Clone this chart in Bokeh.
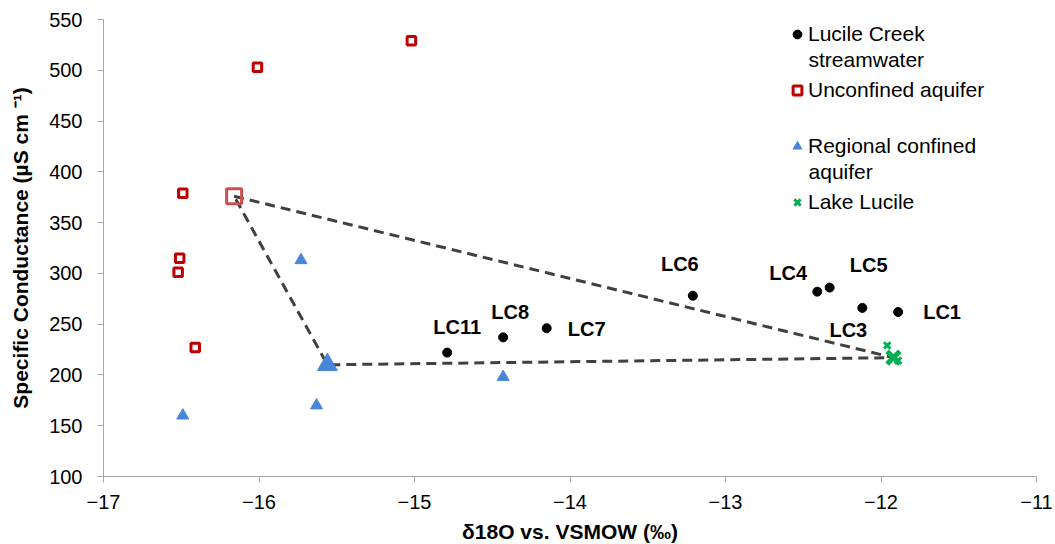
from bokeh.plotting import figure
from bokeh.models import FixedTicker, Legend, LegendItem, ColumnDataSource
from bokeh.core.properties import value
from bokeh.embed import file_html
from bokeh.resources import INLINE

# ---------------- data ----------------
lc_x = [-14.79, -14.43, -14.15, -13.21, -12.41, -12.33, -12.12, -11.89]
lc_y = [222, 237, 246, 278, 282, 286, 266, 262]
lc_labels = ["LC11", "LC8", "LC7", "LC6", "LC4", "LC5", "LC3", "LC1"]

unconf_x = [-15.02, -16.01, -16.49, -16.51, -16.52, -16.41]
unconf_y = [529, 503, 379, 315, 301, 227]

regional_x = [-16.49, -15.63, -15.73, -15.56, -14.43]
regional_y = [160, 170, 313, 213, 198]

lake_x = [-11.96, -11.89]
lake_y = [229, 214]

# end members: unconfined, regional confined, lake
em_unconf = (-16.16, 376)
em_regional = (-15.56, 210)
em_lake = (-11.92, 217)

x_ticks = [-17, -16, -15, -14, -13, -12, -11]
y_ticks = [100, 150, 200, 250, 300, 350, 400, 450, 500, 550]

# label offsets (screen px, y down) for LC labels
lab_dx = [10, 7, 40, -13, -29, 39, -14, 44]
lab_dy = [-26, -25, 1, -32, -19, -23, 22, 0]

FONT = "Liberation Sans"
RED = "#c00000"
RED_EM = "#c9504f"
BLUE = "#4a86d6"
GREEN = "#00b050"
DASH = "#404040"
AXIS = "#a6a6a6"

p = figure(frame_width=933, frame_height=457, output_backend="svg", toolbar_location=None,
           x_range=(-17, -11), y_range=(100, 550),
           min_border_left=103, min_border_right=19, min_border_top=19, min_border_bottom=68)
p.outline_line_color = None
p.xgrid.grid_line_color = None
p.ygrid.grid_line_color = None
p.background_fill_color = "white"
p.border_fill_color = "white"

for ax in (p.xaxis[0], p.yaxis[0]):
    ax.axis_line_color = AXIS
    ax.major_tick_line_color = AXIS
    ax.minor_tick_line_color = None
    ax.major_tick_in = 0
    ax.major_tick_out = 6
    ax.major_label_text_font = FONT
    ax.major_label_text_font_size = "20px"
    ax.major_label_text_color = "#000000"
    ax.axis_label_text_font = FONT
    ax.axis_label_text_font_size = "21px"
    ax.axis_label_text_font_style = "bold"
    ax.axis_label_text_color = "#000000"

p.xaxis.ticker = FixedTicker(ticks=x_ticks)
p.yaxis.ticker = FixedTicker(ticks=y_ticks)
p.xaxis.major_label_standoff = 12
p.xaxis.axis_label_standoff = 8
p.yaxis.major_label_standoff = 15
p.yaxis.axis_label_standoff = 14
p.xaxis.axis_label = "δ18O vs. VSMOW (‰)"
p.yaxis.axis_label = "Specific Conductance (µS cm ⁻¹)"

# mixing triangle (dashed)
mx = [em_unconf[0], em_lake[0], em_regional[0], em_unconf[0]]
my = [em_unconf[1], em_lake[1], em_regional[1], em_unconf[1]]
p.line(mx, my, line_color=DASH, line_width=3, line_dash="10 6")

# series
r_lc = p.scatter(lc_x, lc_y, marker="circle", size=9, fill_color="black", line_color="black")
r_un = p.scatter(unconf_x, unconf_y, marker="square", size=8.5, fill_color="white",
                 line_color=RED, line_width=3)
r_rg = p.scatter(regional_x, regional_y, marker="triangle", size=12, fill_color=BLUE,
                 line_color=BLUE, line_width=1)
r_lk = p.scatter(lake_x, lake_y, marker="x", size=9, line_color=GREEN, line_width=3)

# end-member markers
p.scatter([em_unconf[0]], [em_unconf[1]], marker="square", size=15, fill_color="white",
          fill_alpha=0, line_color=RED_EM, line_width=3)
p.scatter([em_regional[0]], [em_regional[1]], marker="triangle", size=20, fill_color=BLUE,
          line_color=BLUE)
p.scatter([em_lake[0]], [em_lake[1]], marker="x", size=18, line_color=GREEN, line_width=5)

# LC labels
src = ColumnDataSource(dict(x=lc_x, y=lc_y, t=lc_labels, dx=lab_dx, dy=lab_dy))
p.text(x="x", y="y", text="t", x_offset="dx", y_offset="dy", source=src,
       text_font=value(FONT), text_font_size="20px", text_font_style="bold",
       text_align="center", text_baseline="middle", text_color="black")

# legend
legend = Legend(items=[
    LegendItem(label="Lucile Creek", renderers=[r_lc]),
    LegendItem(label="Unconfined aquifer", renderers=[r_un]),
    LegendItem(label="Regional confined", renderers=[r_rg]),
    LegendItem(label="Lake Lucile", renderers=[r_lk]),
], location=(683, 262), orientation="vertical")
legend.padding = 0
legend.margin = 0
legend.spacing = 32
legend.glyph_width = 22
legend.glyph_height = 24
legend.label_height = 24
legend.label_standoff = 0
legend.label_text_font = FONT
legend.label_text_font_size = "21px"
legend.label_text_color = "black"
legend.border_line_color = None
legend.background_fill_alpha = 0
p.add_layout(legend)

# second lines of legend labels (aligned with the legend text column)
cont_x = [-12.466, -12.466]
cont_y = [510.5, 400.3]
cont_t = ["streamwater", "aquifer"]
p.text(x=cont_x, y=cont_y, text=cont_t, text_font=value(FONT), text_font_size="21px",
       text_align="left", text_baseline="middle", text_color="black")

open("out.html", "w").write(file_html(p, INLINE))
